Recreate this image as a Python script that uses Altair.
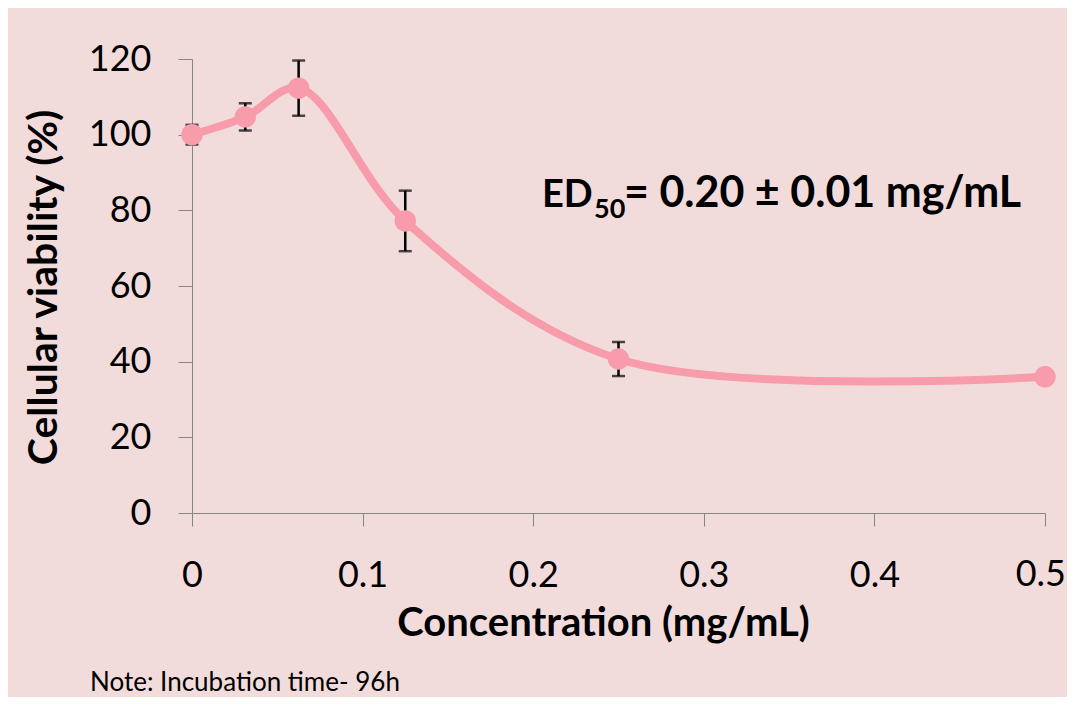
import altair as alt
import pandas as pd

conc = [0, 0.03125, 0.0625, 0.125, 0.25, 0.5]
viab = [100.0, 104.7, 112.3, 77.2, 40.7, 36.0]
err = [2.6, 3.6, 7.3, 8.0, 4.5, 0.0]

x_ticks = [0, 0.1, 0.2, 0.3, 0.4, 0.5]
y_ticks = [0, 20, 40, 60, 80, 100, 120]

df = pd.DataFrame({"conc": conc, "viab": viab, "err": err})
df["lo"] = df["viab"] - df["err"]
df["hi"] = df["viab"] + df["err"]
df_err = df[df["err"] > 0]

BG = "#F2DCDB"
PINK = "#F89BAB"
FONT = "Lato"

W, H = 853, 454
TICK_X = 13
PAD_X = 32

xs = alt.Scale(domain=[0, 0.5], nice=False, zero=False)
ys = alt.Scale(domain=[0, 120], nice=False)

x_axis = alt.Axis(
    values=x_ticks, format="~g", grid=False, labelFlush=False,
    labelExpr="datum.value >= 0.5 ? '' : datum.label",
    domainColor="#868686", tickColor="#868686", tickSize=TICK_X,
    labelFont=FONT, labelFontSize=36, labelColor="black", labelPadding=PAD_X,
    title="Concentration (mg/mL)", titleFont=FONT, titleFontSize=40,
    titleFontWeight="bold", titleColor="black",
    titleX=411, titleY=122, titleBaseline="alphabetic", titleAlign="center",
)
y_axis = alt.Axis(
    values=y_ticks, grid=False,
    domainColor="#868686", tickColor="#868686", tickSize=14,
    labelFont=FONT, labelFontSize=36, labelColor="black", labelPadding=27,
    title="Cellular viability (%)", titleFont=FONT, titleFontSize=41,
    titleFontWeight="bold", titleColor="black",
    titleX=-136, titleY=228, titleAngle=-90, titleBaseline="alphabetic",
    titleAlign="center",
)

base = alt.Chart(df)

line = base.mark_line(
    color=PINK, strokeWidth=8, interpolate="catmull-rom"
).encode(
    x=alt.X("conc:Q", scale=xs, axis=x_axis),
    y=alt.Y("viab:Q", scale=ys, axis=y_axis),
)

err_base = alt.Chart(df_err)
rule = err_base.mark_rule(color="black", strokeWidth=2.5).encode(
    x="conc:Q", y="lo:Q", y2="hi:Q"
)
cap_lo = err_base.mark_tick(color="black", size=13, thickness=2.5, orient="horizontal").encode(
    x="conc:Q", y="lo:Q"
)
cap_hi = err_base.mark_tick(color="black", size=13, thickness=2.5, orient="horizontal").encode(
    x="conc:Q", y="hi:Q"
)

points = base.mark_circle(color=PINK, opacity=1, size=460).encode(
    x="conc:Q", y="viab:Q"
)

# last x tick label, kept inside the page edge
last_df = pd.DataFrame({"v": [x_ticks[-1]], "lab": ["0.5"]})
last_lab = alt.Chart(last_df).mark_text(
    font=FONT, fontSize=36, color="black", align="right", baseline="top", dx=21
).encode(
    x=alt.X("v:Q", scale=xs), y=alt.value(H + TICK_X + PAD_X), text="lab:N"
)

ann_df = pd.DataFrame({"t": [0]})
ann = alt.Chart(ann_df)
ed = ann.mark_text(
    text="ED", font=FONT, fontSize=38, fontWeight="bold", color="black",
    align="left", baseline="alphabetic"
).encode(x=alt.value(350), y=alt.value(148))
sub = ann.mark_text(
    text="50", font=FONT, fontSize=27, fontWeight="bold", color="black",
    align="left", baseline="alphabetic"
).encode(x=alt.value(402), y=alt.value(159))
rest = ann.mark_text(
    text="= 0.20 ± 0.01 mg/mL", font=FONT, fontSize=43, fontWeight="bold",
    color="black", align="left", baseline="alphabetic"
).encode(x=alt.value(432), y=alt.value(148))
note = ann.mark_text(
    text="Note: Incubation time- 96h", font=FONT, fontSize=26,
    color="black", align="left", baseline="alphabetic"
).encode(x=alt.value(-102), y=alt.value(632))

chart = alt.layer(
    line, rule, cap_lo, cap_hi, points, last_lab, ed, sub, rest, note
).properties(
    width=W, height=H, background=BG,
    padding={"left": 184, "top": 51, "right": 22, "bottom": 184},
    autosize=alt.AutoSizeParams(type="none"),
).configure_view(stroke=None)

chart.save("out.html", embed_options={"renderer": "svg", "actions": False})
